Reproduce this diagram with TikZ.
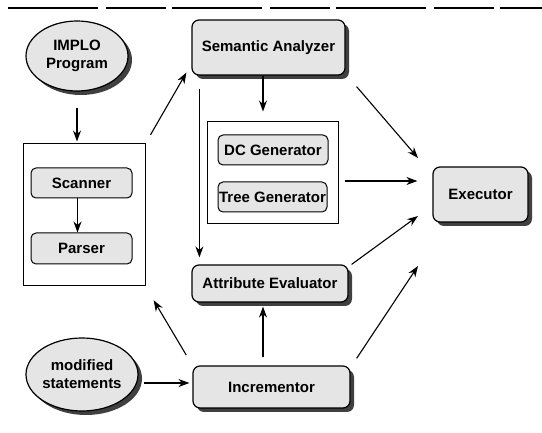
\documentclass[tikz,border=0pt]{standalone}
\usepackage{fontspec}
\setmainfont{Liberation Sans}
\usetikzlibrary{arrows.meta,shadows,shapes.geometric}
\begin{document}
\begin{tikzpicture}[x=1pt,y=-1pt,
  font=\fontsize{15}{18}\selectfont\bfseries,
  shade/.style={drop shadow={shadow xshift=4pt,shadow yshift=-4pt,fill=black!75,opacity=1}},
  bigbox/.style={draw=black,line width=1.2pt,rounded corners=7pt,fill=gray!20,shade,inner sep=0pt},
  smallbox/.style={draw=black,line width=1pt,rounded corners=5pt,fill=gray!20,inner sep=0pt},
  oval/.style={ellipse,draw=black,line width=1.2pt,fill=gray!20,shade,inner sep=0pt,align=center},
  frame/.style={draw=black,line width=1pt,inner sep=0pt},
  arr/.style={-{Stealth[length=11pt,width=8pt]},line width=1.1pt},
]
\useasboundingbox (0,0) rectangle (542,433);
\draw[line width=1.2pt,dash pattern=on 90pt off 8pt on 60pt off 6pt] (8,8) -- (542,8);

% frames
\node[frame,minimum width=122pt,minimum height=142pt] (lbox) at (84,215) {};
\node[frame,minimum width=131pt,minimum height=102pt] (mbox) at (272.5,173) {};

% nodes
\node[oval,minimum width=102pt,minimum height=70pt] (impl) at (77,56) {IMPLO\\Program};
\node[oval,minimum width=110pt,minimum height=73pt] (mod) at (82,374.5) {modified\\statements};
\node[bigbox,minimum width=153pt,minimum height=55pt] (sa) at (268.5,47.5) {Semantic Analyzer};
\node[bigbox,minimum width=156pt,minimum height=37pt] (ae) at (270,283.5) {Attribute Evaluator};
\node[bigbox,minimum width=157pt,minimum height=42pt] (inc) at (271.5,387) {Incrementor};
\node[bigbox,minimum width=95pt,minimum height=55pt] (exec) at (480.5,194.5) {Executor};
\node[smallbox,minimum width=110pt,minimum height=30pt] (dc) at (273,150) {DC Generator};
\node[smallbox,minimum width=109pt,minimum height=30pt] (tree) at (272.5,197) {Tree Generator};
\node[smallbox,minimum width=101pt,minimum height=30pt] (scan) at (81.5,183) {Scanner};
\node[smallbox,minimum width=101pt,minimum height=31pt] (pars) at (81.5,248.5) {Parser};

% arrow targets near the executor
\coordinate (t1) at (418,158);
\coordinate (t2) at (418,216);
\coordinate (t3) at (418,266);

% connectors
\draw[arr,shorten <=16pt,shorten >=2pt] (impl.south) -- (impl.south |- lbox.north);
\draw[arr] ([xshift=-4pt]scan.south) -- ([xshift=-4pt]pars.north);
\draw[arr,shorten <=10pt] (lbox.north east) -- ([shift={(-5pt,3pt)}]sa.south west);
\draw[arr,shorten >=10pt] ([xshift=-5.5pt]sa.south) -- ([xshift=-9.5pt]mbox.north);
\draw[arr,shorten <=13pt,shorten >=7pt] ([xshift=8pt]sa.south west) -- ([xshift=8pt]ae.north west);
\draw[arr,shorten <=6pt,shorten >=15pt] ([yshift=-8pt]mbox.east) -- ([yshift=-8pt]mbox.east -| exec.west);
\draw[arr] ([shift={(11pt,-11pt)}]sa.south east) -- (t1);
\draw[arr] ([xshift=3pt]ae.north east) -- (t2);
\draw[arr] ([shift={(6pt,7pt)}]inc.north east) -- (t3);
\draw[arr,shorten <=8pt,shorten >=4pt] ([xshift=-8.5pt]inc.north) -- ([xshift=-7pt]ae.south);
\draw[arr,shorten <=12pt,shorten >=16pt] (inc.north west) -- (lbox.south east);
\draw[arr,shorten <=5pt,shorten >=3pt] ([yshift=-8.5pt]mod.east) -- ([yshift=-8.5pt]mod.east -| inc.west);
\end{tikzpicture}
\end{document}
